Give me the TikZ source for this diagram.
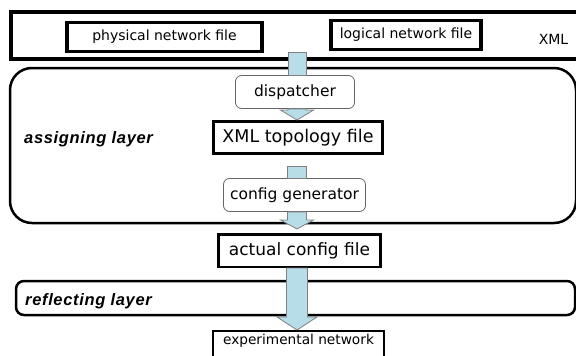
\documentclass[tikz,border=0pt]{standalone}
\usepackage{fontspec}
\setmainfont{DejaVu Sans}
\newfontfamily\layerfont[LetterSpace=4]{Liberation Sans}
\usetikzlibrary{calc}
\definecolor{tubeblue}{RGB}{183,221,232}

\newcommand{\blockarrow}[5]{%
  \path[tube] let \p1=(#1), \p2=(#2) in
    (\x1-#3pt,\y1) -- (\x1-#3pt,\y2+#5pt) -- (\x1-#4pt,\y2+#5pt) -- (\x1,\y2)
    -- (\x1+#4pt,\y2+#5pt) -- (\x1+#3pt,\y2+#5pt) -- (\x1+#3pt,\y1) -- cycle;}

\begin{document}
\begin{tikzpicture}[
  x=1pt,y=-1pt,
  filebox/.style={draw,line width=3.5pt,inner sep=0pt,
    minimum height=29pt,font=\fontsize{14}{16}\selectfont},
  toolbox/.style={draw=black!60,line width=0.8pt,rounded corners=6pt,
    inner sep=0pt,minimum height=33pt,fill=white},
  layer/.style={draw,line width=2.5pt},
  layername/.style={anchor=west,inner sep=0pt,
    font=\layerfont\fontsize{16.5}{18}\selectfont\bfseries\itshape},
  tube/.style={draw=black!50,line width=0.8pt,fill=tubeblue}]
\clip (0,0) rectangle (576,356);
\fill[white] (0,0) rectangle (576,356);
\draw[line width=4pt] (11,11.5) rectangle (600,58.5);
\draw[layer,rounded corners=22pt] (10,68) rectangle (576,223);
\draw[layer,rounded corners=8pt] (16,281) rectangle (575,315);
\node[filebox,minimum width=195pt] (phys) at (164.5,37) {physical network file};
\node[filebox,minimum width=150pt] (logi) at (406,35) {logical network file};
\node[inner sep=0pt,font=\fontsize{14}{16}\selectfont] (xml) at (553.5,39) {XML};
\coordinate (xmltap) at (297,52);
\node[layername] (assign) at (24,139) {assigning layer};
\node[layername] (reflect) at (25,301) {reflecting layer};
\node[toolbox,minimum width=119pt,font=\fontsize{15.5}{18}\selectfont]
  (disp) at (295,92) {dispatcher};
\node[filebox,line width=3pt,minimum width=169pt,minimum height=32pt,
  font=\fontsize{17.5}{20}\selectfont] (topo) at (298,137.5) {XML topology file};
\node[toolbox,minimum width=142pt,font=\fontsize{15.5}{18}\selectfont]
  (cfg) at (294.5,195) {config generator};
\node[filebox,line width=2.5pt,minimum width=162pt,minimum height=32.5pt,
  font=\fontsize{17}{20}\selectfont] (actual) at (299.5,250.5) {actual config file};
\node[filebox,line width=2pt,minimum width=171pt,minimum height=0pt,
  anchor=north,inner ysep=3pt,text height=10pt,text depth=20pt,
  font=\fontsize{13.7}{16}\selectfont] (exp) at (298.5,330) {experimental network};
\blockarrow{xmltap}{disp.north}{9}{9}{0}
\blockarrow{disp.south -| xmltap}{topo.north}{9}{16.5}{10}
\blockarrow{$(topo.south -| xmltap)+(0,11)$}{cfg.north}{9.5}{9.5}{0}
\blockarrow{cfg.south -| xmltap}{$(actual.north)+(0,-4)$}{9.5}{16.5}{9}
\blockarrow{actual.south -| xmltap}{exp.north}{10.5}{20}{13}
\end{tikzpicture}
\end{document}
